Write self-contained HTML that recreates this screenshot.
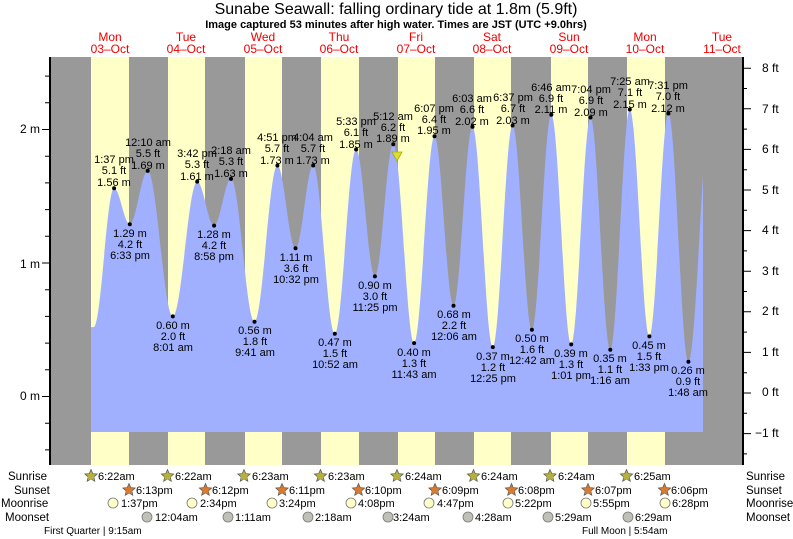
<!DOCTYPE html>
<html><head><meta charset="utf-8"><style>
body{margin:0;background:#fff}
svg{display:block;font-family:"Liberation Sans",sans-serif}
.l{font-size:11px;fill:#000;text-anchor:middle}
.d{font-size:12px;fill:#e00;text-anchor:middle}
.a{font-size:12px;fill:#000}
.r{font-size:11.5px;fill:#000}
</style></head><body>
<svg width="793" height="539" viewBox="0 0 793 539" xmlns="http://www.w3.org/2000/svg">
<defs>
<clipPath id="cp"><rect x="91" y="57" width="612" height="408"/></clipPath>
<g id="st"><polygon points="0,-6.5 1.76,-2.43 6.18,-2.01 2.85,0.93 3.82,5.26 0,3 -3.82,5.26 -2.85,0.93 -6.18,-2.01 -1.76,-2.43" stroke="#555" stroke-width="0.7"/><circle cx="0" cy="0.5" r="3.3"/></g>
</defs>
<text x="396" y="14" text-anchor="middle" style="font-size:16px">Sunabe Seawall: falling  ordinary tide at 1.8m (5.9ft)</text>
<text x="396" y="28" text-anchor="middle" style="font-size:11px;font-weight:bold">Image captured 53 minutes after high water. Times are JST (UTC +9.0hrs)</text>
<g class="d">
<text x="110" y="41">Mon</text><text x="110" y="53">03–Oct</text>
<text x="186" y="41">Tue</text><text x="186" y="53">04–Oct</text>
<text x="263" y="41">Wed</text><text x="263" y="53">05–Oct</text>
<text x="339" y="41">Thu</text><text x="339" y="53">06–Oct</text>
<text x="416" y="41">Fri</text><text x="416" y="53">07–Oct</text>
<text x="492" y="41">Sat</text><text x="492" y="53">08–Oct</text>
<text x="569" y="41">Sun</text><text x="569" y="53">09–Oct</text>
<text x="645" y="41">Mon</text><text x="645" y="53">10–Oct</text>
<text x="722" y="41">Tue</text><text x="722" y="53">11–Oct</text>
</g>
<rect x="50" y="57" width="693" height="408" fill="#999"/>
<g fill="#ffffc8">
<rect x="91" y="57" width="38" height="408"/><rect x="168" y="57" width="37" height="408"/>
<rect x="245" y="57" width="37" height="408"/><rect x="321" y="57" width="38" height="408"/>
<rect x="398" y="57" width="37" height="408"/><rect x="474" y="57" width="37" height="408"/>
<rect x="551" y="57" width="37" height="408"/><rect x="627" y="57" width="38" height="408"/>
</g>
<path clip-path="url(#cp)" fill="#a0b0ff" d="M91,432 L91,327.1 L93.8,327.1
C101.1,327.1 106.8,188.2 114.1,188.2
C119.8,188.2 124.1,224.3 129.8,224.3
C136.2,224.3 141.3,170.9 147.7,170.9
C156.7,170.9 163.8,316.4 172.8,316.4
C181.6,316.4 188.4,181.6 197.2,181.6
C203.3,181.6 208.0,225.6 214.1,225.6
C220.2,225.6 224.9,178.9 231.0,178.9
C239.5,178.9 246.0,321.7 254.5,321.7
C262.7,321.7 269.2,165.5 277.4,165.5
C283.9,165.5 289.0,248.3 295.5,248.3
C301.9,248.3 306.8,165.5 313.2,165.5
C321.0,165.5 327.0,333.8 334.8,333.8
C342.5,333.8 348.4,149.5 356.1,149.5
C362.9,149.5 368.1,276.4 374.9,276.4
C381.5,276.4 386.7,144.2 393.3,144.2
C400.8,144.2 406.6,343.1 414.1,343.1
C421.4,343.1 427.2,136.2 434.5,136.2
C441.3,136.2 446.7,305.7 453.5,305.7
C460.3,305.7 465.7,126.8 472.5,126.8
C479.8,126.8 485.5,347.1 492.8,347.1
C499.9,347.1 505.5,125.5 512.6,125.5
C519.5,125.5 525.0,329.8 531.9,329.8
C538.9,329.8 544.3,114.8 551.3,114.8
C558.5,114.8 564.0,344.4 571.2,344.4
C578.1,344.4 583.6,117.5 590.5,117.5
C597.6,117.5 603.2,349.8 610.3,349.8
C617.3,349.8 622.8,109.5 629.8,109.5
C636.9,109.5 642.3,336.4 649.4,336.4
C656.2,336.4 661.6,113.5 668.4,113.5
C675.6,113.5 681.2,361.8 688.4,361.8
C696.5,361.8 702.9,102.8 711,102.8
L711,432 Z"/>
<line x1="50" y1="57" x2="50" y2="465" stroke="#000" stroke-width="2"/>
<line x1="743" y1="57" x2="743" y2="465" stroke="#000" stroke-width="2"/>
<path stroke="#000" stroke-width="1" fill="none" d="M45,449.9H50 M45,423.2H50 M42,396.5H50 M45,369.8H50 M45,343.1H50 M45,316.4H50 M45,289.7H50 M42,263H50 M45,236.3H50 M45,209.6H50 M45,182.9H50 M45,156.2H50 M42,129.5H50 M45,102.8H50 M45,76.1H50
M743,453.9H747 M743,433.6H751 M743,413.3H747 M743,393H751 M743,372.7H747 M743,352.4H751 M743,332.1H747 M743,311.8H751 M743,291.5H747 M743,271.2H751 M743,250.9H747 M743,230.6H751 M743,210.3H747 M743,190H751 M743,169.7H747 M743,149.4H751 M743,129.1H747 M743,108.8H751 M743,88.5H747 M743,68.2H751"/>
<g class="a">
<text x="20" y="133">2 m</text><text x="20" y="268">1 m</text><text x="20" y="400">0 m</text>
<text x="762" y="72">8 ft</text><text x="762" y="113">7 ft</text><text x="762" y="153">6 ft</text>
<text x="762" y="194">5 ft</text><text x="762" y="234">4 ft</text><text x="762" y="275">3 ft</text>
<text x="762" y="315">2 ft</text><text x="762" y="356">1 ft</text><text x="762" y="396">0 ft</text>
<text x="755" y="437">−1 ft</text>
</g>
<g fill="#000">
<circle cx="114.1" cy="188.2" r="2"/><circle cx="129.8" cy="224.3" r="2"/><circle cx="147.7" cy="170.9" r="2"/><circle cx="172.8" cy="316.4" r="2"/>
<circle cx="197.2" cy="181.6" r="2"/><circle cx="214.1" cy="225.6" r="2"/><circle cx="231.0" cy="178.9" r="2"/><circle cx="254.5" cy="321.7" r="2"/>
<circle cx="277.4" cy="165.5" r="2"/><circle cx="295.5" cy="248.3" r="2"/><circle cx="313.2" cy="165.5" r="2"/><circle cx="334.8" cy="333.8" r="2"/>
<circle cx="356.1" cy="149.5" r="2"/><circle cx="374.9" cy="276.4" r="2"/><circle cx="393.3" cy="144.2" r="2"/><circle cx="414.1" cy="343.1" r="2"/>
<circle cx="434.5" cy="136.2" r="2"/><circle cx="453.5" cy="305.7" r="2"/><circle cx="472.5" cy="126.8" r="2"/><circle cx="492.8" cy="347.1" r="2"/>
<circle cx="512.6" cy="125.5" r="2"/><circle cx="531.9" cy="329.8" r="2"/><circle cx="551.3" cy="114.8" r="2"/><circle cx="571.2" cy="344.4" r="2"/>
<circle cx="590.5" cy="117.5" r="2"/><circle cx="610.3" cy="349.8" r="2"/><circle cx="629.8" cy="109.5" r="2"/><circle cx="649.4" cy="336.4" r="2"/>
<circle cx="668.4" cy="113.5" r="2"/><circle cx="688.4" cy="361.8" r="2"/>
</g>
<polygon points="392,152 402,152 397,161" fill="#dd3" stroke="#aa0" stroke-width="0.8"/>
<g class="l">
<text x="114" y="163">1:37 pm</text><text x="114" y="174">5.1 ft</text><text x="114" y="186">1.56 m</text>
<text x="130" y="237">1.29 m</text><text x="130" y="248">4.2 ft</text><text x="130" y="259">6:33 pm</text>
<text x="148" y="146">12:10 am</text><text x="148" y="157">5.5 ft</text><text x="148" y="169">1.69 m</text>
<text x="173" y="329">0.60 m</text><text x="173" y="340">2.0 ft</text><text x="173" y="351">8:01 am</text>
<text x="197" y="157">3:42 pm</text><text x="197" y="168">5.3 ft</text><text x="197" y="180">1.61 m</text>
<text x="214" y="238">1.28 m</text><text x="214" y="249">4.2 ft</text><text x="214" y="260">8:58 pm</text>
<text x="231" y="154">2:18 am</text><text x="231" y="165">5.3 ft</text><text x="231" y="177">1.63 m</text>
<text x="255" y="334">0.56 m</text><text x="255" y="345">1.8 ft</text><text x="255" y="356">9:41 am</text>
<text x="277" y="141">4:51 pm</text><text x="277" y="152">5.7 ft</text><text x="277" y="164">1.73 m</text>
<text x="296" y="261">1.11 m</text><text x="296" y="272">3.6 ft</text><text x="296" y="283">10:32 pm</text>
<text x="313" y="141">4:04 am</text><text x="313" y="152">5.7 ft</text><text x="313" y="164">1.73 m</text>
<text x="335" y="346">0.47 m</text><text x="335" y="357">1.5 ft</text><text x="335" y="368">10:52 am</text>
<text x="356" y="125">5:33 pm</text><text x="356" y="136">6.1 ft</text><text x="356" y="148">1.85 m</text>
<text x="375" y="289">0.90 m</text><text x="375" y="300">3.0 ft</text><text x="375" y="311">11:25 pm</text>
<text x="393" y="120">5:12 am</text><text x="393" y="131">6.2 ft</text><text x="393" y="142">1.89 m</text>
<text x="414" y="356">0.40 m</text><text x="414" y="367">1.3 ft</text><text x="414" y="378">11:43 am</text>
<text x="434" y="112">6:07 pm</text><text x="434" y="123">6.4 ft</text><text x="434" y="134">1.95 m</text>
<text x="454" y="318">0.68 m</text><text x="454" y="329">2.2 ft</text><text x="454" y="340">12:06 am</text>
<text x="472" y="102">6:03 am</text><text x="472" y="113">6.6 ft</text><text x="472" y="125">2.02 m</text>
<text x="493" y="360">0.37 m</text><text x="493" y="371">1.2 ft</text><text x="493" y="382">12:25 pm</text>
<text x="513" y="101">6:37 pm</text><text x="513" y="112">6.7 ft</text><text x="513" y="124">2.03 m</text>
<text x="532" y="342">0.50 m</text><text x="532" y="353">1.6 ft</text><text x="532" y="364">12:42 am</text>
<text x="551" y="91">6:46 am</text><text x="551" y="102">6.9 ft</text><text x="551" y="113">2.11 m</text>
<text x="571" y="357">0.39 m</text><text x="571" y="368">1.3 ft</text><text x="571" y="379">1:01 pm</text>
<text x="591" y="93">7:04 pm</text><text x="591" y="104">6.9 ft</text><text x="591" y="116">2.09 m</text>
<text x="610" y="362">0.35 m</text><text x="610" y="373">1.1 ft</text><text x="610" y="384">1:16 am</text>
<text x="630" y="85">7:25 am</text><text x="630" y="96">7.1 ft</text><text x="630" y="108">2.15 m</text>
<text x="649" y="349">0.45 m</text><text x="649" y="360">1.5 ft</text><text x="649" y="371">1:33 pm</text>
<text x="668" y="89">7:31 pm</text><text x="668" y="100">7.0 ft</text><text x="668" y="112">2.12 m</text>
<text x="688" y="374">0.26 m</text><text x="688" y="385">0.9 ft</text><text x="688" y="396">1:48 am</text>
</g>
<g class="r">
<text x="8" y="480">Sunrise</text><text x="14" y="494">Sunset</text><text x="1" y="507">Moonrise</text><text x="5" y="521">Moonset</text>
<text x="746" y="480">Sunrise</text><text x="746" y="494">Sunset</text><text x="746" y="507">Moonrise</text><text x="746" y="521">Moonset</text>
<text x="44" y="534" style="font-size:10px">First Quarter | 9:15am</text>
<text x="582" y="534" style="font-size:10px">Full Moon | 5:54am</text>
</g>
<g fill="#b5b040">
<use href="#st" x="91" y="476"/><use href="#st" x="167.5" y="476"/><use href="#st" x="244" y="476"/><use href="#st" x="320.5" y="476"/>
<use href="#st" x="397" y="476"/><use href="#st" x="473.5" y="476"/><use href="#st" x="550" y="476"/><use href="#st" x="626.5" y="476"/>
</g>
<g fill="#d87a30">
<use href="#st" x="129" y="490"/><use href="#st" x="205.5" y="490"/><use href="#st" x="282" y="490"/><use href="#st" x="358.5" y="490"/>
<use href="#st" x="435" y="490"/><use href="#st" x="511.5" y="490"/><use href="#st" x="588" y="490"/><use href="#st" x="664.5" y="490"/>
</g>
<g fill="#ffffc8" stroke="#777" stroke-width="0.8">
<circle cx="113" cy="503" r="5"/><circle cx="192" cy="503" r="5"/><circle cx="272" cy="503" r="5"/><circle cx="351" cy="503" r="5"/>
<circle cx="429" cy="503" r="5"/><circle cx="508" cy="503" r="5"/><circle cx="586" cy="503" r="5"/><circle cx="665" cy="503" r="5"/>
</g>
<g fill="#c0c0b8" stroke="#777" stroke-width="0.8">
<circle cx="147" cy="517" r="5"/><circle cx="228" cy="517" r="5"/><circle cx="308" cy="517" r="5"/><circle cx="388" cy="517" r="5"/>
<circle cx="468" cy="517" r="5"/><circle cx="548" cy="517" r="5"/><circle cx="628" cy="517" r="5"/>
</g>
<g class="r" style="font-size:11px">
<text x="98" y="480">6:22am</text><text x="175" y="480">6:22am</text><text x="252" y="480">6:23am</text><text x="328" y="480">6:23am</text>
<text x="405" y="480">6:24am</text><text x="481" y="480">6:24am</text><text x="558" y="480">6:24am</text><text x="634" y="480">6:25am</text>
<text x="136" y="494">6:13pm</text><text x="212" y="494">6:12pm</text><text x="289" y="494">6:11pm</text><text x="365" y="494">6:10pm</text>
<text x="442" y="494">6:09pm</text><text x="518" y="494">6:08pm</text><text x="595" y="494">6:07pm</text><text x="671" y="494">6:06pm</text>
<text x="121" y="507">1:37pm</text><text x="200" y="507">2:34pm</text><text x="279" y="507">3:24pm</text><text x="358" y="507">4:08pm</text>
<text x="437" y="507">4:47pm</text><text x="515" y="507">5:22pm</text><text x="593" y="507">5:55pm</text><text x="672" y="507">6:28pm</text>
<text x="155" y="521">12:04am</text><text x="235" y="521">1:11am</text><text x="315" y="521">2:18am</text><text x="393" y="521">3:24am</text>
<text x="475" y="521">4:28am</text><text x="555" y="521">5:29am</text><text x="635" y="521">6:29am</text>
</g>
</svg>
</body></html>
